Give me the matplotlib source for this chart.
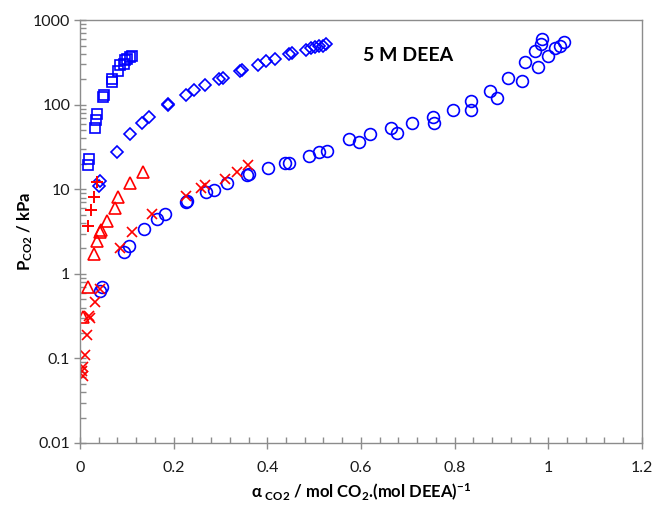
import numpy as np
import matplotlib
matplotlib.use('Agg')
import matplotlib.pyplot as plt
from matplotlib.ticker import MultipleLocator, LogLocator, NullFormatter, FixedFormatter, FixedLocator

plt.rcParams['font.family'] = ['Lato', 'DejaVu Sans']
plt.rcParams['mathtext.fontset'] = 'custom'
plt.rcParams['mathtext.rm'] = 'Lato:bold'
plt.rcParams['mathtext.bf'] = 'Lato:bold'
plt.rcParams['mathtext.default'] = 'bf'

# 5 M DEEA, circles
circ_x = [0.042, 0.047, 0.093, 0.105, 0.137, 0.164, 0.182, 0.227, 0.228, 0.270, 0.286,
          0.314, 0.356, 0.360, 0.401, 0.438, 0.447, 0.488, 0.511, 0.528, 0.574, 0.596,
          0.620, 0.665, 0.678, 0.710, 0.753, 0.757, 0.796, 0.835, 0.835, 0.876, 0.891,
          0.914, 0.944, 0.951, 0.971, 0.979, 0.984, 0.986, 1.000, 1.014, 1.026, 1.034]
circ_y = [0.62, 0.70, 1.82, 2.15, 3.39, 4.46, 5.1, 7.0, 7.3, 9.2, 9.9,
          11.8, 14.8, 15.2, 17.7, 20.3, 20.6, 24.9, 27.5, 28.2, 39.6, 36.1,
          44.6, 53, 46.7, 60.7, 72.3, 61.4, 86.5, 110, 85.9, 147, 120,
          207, 191, 321, 433, 278, 520, 596, 378, 463, 493, 550]

# diamonds
diam_x = [0.040, 0.042, 0.079, 0.106, 0.133, 0.147, 0.187, 0.189, 0.226, 0.243, 0.267,
          0.297, 0.305, 0.342, 0.346, 0.380, 0.397, 0.417, 0.447, 0.452, 0.482, 0.493,
          0.502, 0.511, 0.519, 0.525]
diam_y = [10.8, 12.4, 27.5, 45.4, 60.7, 71.5, 98.4, 101, 132, 148, 170,
          200, 210, 251, 261, 299, 327, 352, 396, 404, 442, 463,
          476, 494, 497, 517]

# squares
sq_x = [0.017, 0.019, 0.031, 0.034, 0.036, 0.050, 0.052, 0.068, 0.069, 0.082, 0.086,
        0.093, 0.097, 0.100, 0.106, 0.111]
sq_y = [19.6, 23.1, 52.5, 65.3, 78.3, 123, 129, 186, 202, 249, 293,
        307, 336, 352, 368, 379]

# crosses
cross_x = [0.007, 0.005, 0.007, 0.010, 0.015, 0.019, 0.022, 0.033, 0.043, 0.086, 0.111,
           0.154, 0.226, 0.258, 0.268, 0.309, 0.335, 0.359]
cross_y = [0.062, 0.071, 0.079, 0.11, 0.19, 0.32, 0.30, 0.47, 0.66, 2.0, 3.15,
           5.1, 8.4, 10.3, 11.2, 13.3, 16.1, 19.2]

# plus signs
plus_x = [0.017, 0.024, 0.029, 0.036]
plus_y = [3.7, 5.7, 8.2, 12.1]

# triangles
tri_x = [0.007, 0.017, 0.029, 0.036, 0.042, 0.045, 0.058, 0.075, 0.082, 0.107, 0.134]
tri_y = [0.31, 0.69, 1.71, 2.46, 3.17, 3.3, 4.25, 6.0, 8.2, 11.8, 15.9]

blue = '#0000FF'
red = '#FF0000'

fig = plt.figure(figsize=(6.53, 5.05), dpi=100)
ax = fig.add_axes([0.1225, 0.1228, 0.8605, 0.8372])

ax.plot(circ_x, circ_y, 'o', ms=8.5, mfc='none', mec=blue, mew=1.2)
ax.plot(diam_x, diam_y, 'D', ms=6.5, mfc='none', mec=blue, mew=1.2)
ax.plot(sq_x, sq_y, 's', ms=7.5, mfc='none', mec=blue, mew=1.2)
ax.plot(cross_x, cross_y, 'x', ms=7.5, mec=red, mew=1.2)
ax.plot(plus_x, plus_y, '+', ms=8, mec=red, mew=1.4)
ax.plot(tri_x, tri_y, '^', ms=9, mfc='none', mec=red, mew=1.2)

ax.text(0.605, 385, '5 M DEEA', fontsize=14, fontweight='bold', va='center', ha='left')

ax.set_xlim(0, 1.2)
ax.set_yscale('log')
ax.set_ylim(0.01, 1000)

xt = [0, 0.2, 0.4, 0.6, 0.8, 1.0, 1.2]
ax.xaxis.set_major_locator(FixedLocator(xt))
ax.xaxis.set_major_formatter(FixedFormatter(['0', '0.2', '0.4', '0.6', '0.8', '1', '1.2']))
ax.xaxis.set_minor_locator(MultipleLocator(0.04))

yt = [0.01, 0.1, 1, 10, 100, 1000]
ax.yaxis.set_major_locator(FixedLocator(yt))
ax.yaxis.set_major_formatter(FixedFormatter(['0.01', '0.1', '1', '10', '100', '1000']))
ax.yaxis.set_minor_locator(LogLocator(base=10, subs=np.arange(2, 10)))
ax.yaxis.set_minor_formatter(NullFormatter())

for s in ax.spines.values():
    s.set_color('#8c8c8c')
    s.set_linewidth(1.0)

ax.tick_params(which='major', direction='inout', length=8, width=1.0, color='#8c8c8c',
               labelsize=11.5, labelcolor='#1a1a1a')
ax.tick_params(which='minor', direction='in', length=4, width=1.0, color='#8c8c8c')
ax.tick_params(axis='y', which='major', pad=3)
ax.tick_params(axis='x', which='major', pad=9)

ax.set_ylabel('P$_{CO2}$ / kPa', fontsize=12, fontweight='bold')
ax.yaxis.set_label_coords(-0.098, 0.5)
ax.set_xlabel('α$_{\\ CO2}$ / mol CO$_2$.(mol DEEA)$^{-1}$', fontsize=12,
              fontweight='bold')
ax.xaxis.set_label_coords(0.5, -0.118)
ax.xaxis.label.set_va('center')
ax.yaxis.label.set_va('center')

fig.savefig('out.png', dpi=100)
